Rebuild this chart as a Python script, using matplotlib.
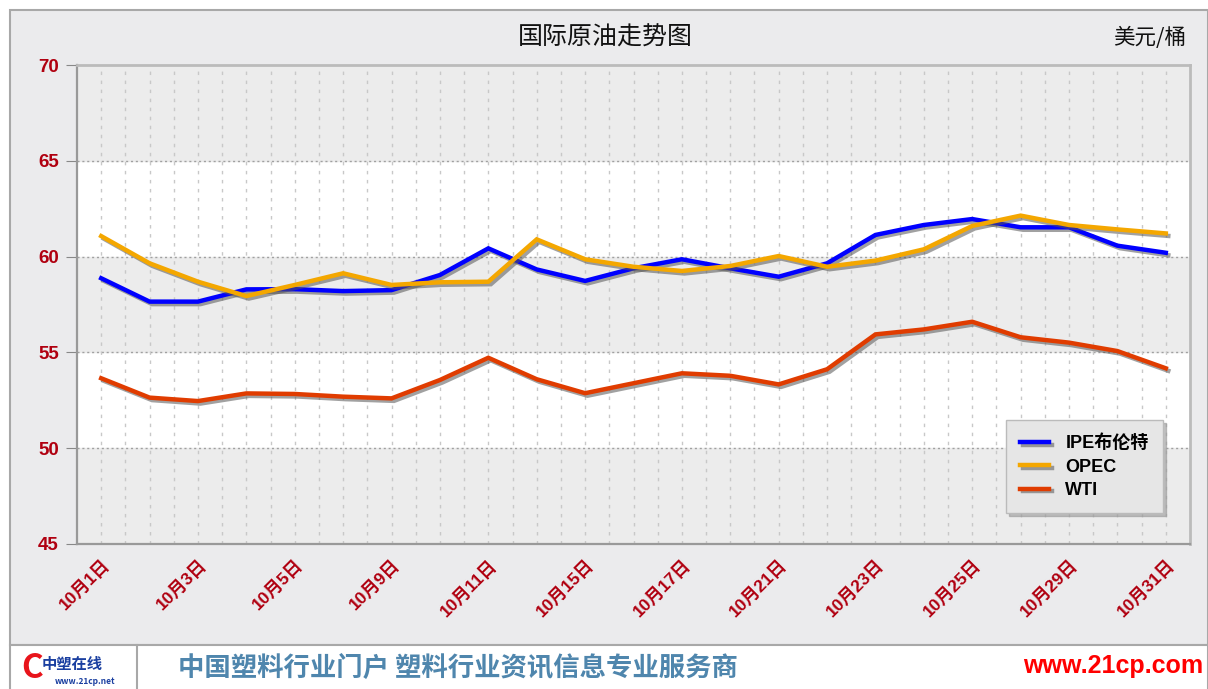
import matplotlib
matplotlib.use('Agg')
import matplotlib.pyplot as plt
import matplotlib.patheffects as pe
from matplotlib.patches import Rectangle
from matplotlib.lines import Line2D
import numpy as np

plt.rcParams['font.family'] = ['Noto Sans CJK SC', 'DejaVu Sans']
MIXED = ['Liberation Sans', 'Noto Sans CJK SC', 'DejaVu Sans']

# 数据
dates = ['10月1日', '10月2日', '10月3日', '10月4日', '10月5日', '10月8日',
         '10月9日', '10月10日', '10月11日', '10月14日', '10月15日', '10月16日',
         '10月17日', '10月18日', '10月21日', '10月22日', '10月23日', '10月24日',
         '10月25日', '10月28日', '10月29日', '10月30日', '10月31日']
ipe = [58.87, 57.65, 57.65, 58.29, 58.30, 58.20, 58.25, 59.04, 60.43, 59.33,
       58.73, 59.39, 59.86, 59.39, 58.95, 59.65, 61.13, 61.65, 61.96, 61.53,
       61.53, 60.57, 60.20]
opec = [61.07, 59.65, 58.69, 57.94, 58.52, 59.13, 58.52, 58.66, 58.69, 60.90,
        59.86, 59.47, 59.25, 59.51, 60.03, 59.47, 59.79, 60.38, 61.60, 62.14,
        61.65, 61.42, 61.21]
wti = [53.65, 52.64, 52.46, 52.86, 52.83, 52.69, 52.60, 53.56, 54.72, 53.60,
       52.87, 53.39, 53.91, 53.78, 53.33, 54.12, 55.94, 56.20, 56.60, 55.79,
       55.51, 55.07, 54.17]
series = [('IPE布伦特', ipe, '#0000ff'),
          ('OPEC', opec, '#f4a700'),
          ('WTI', wti, '#e03c00')]

W, H = 1208, 689
fig = plt.figure(figsize=(W / 100, H / 100), dpi=100)
fig.patch.set_facecolor('white')

# 外框与底部
fig.patches.append(Rectangle((10 / W, 44 / H), 1 - 10 / W, 635 / H,
                             transform=fig.transFigure, facecolor='#ebebed',
                             edgecolor='#a8a8a8', lw=1.5, zorder=-10))
fig.patches.append(Rectangle((10 / W, -0.01), 1 - 10 / W, 44 / H + 0.01,
                             transform=fig.transFigure, facecolor='white',
                             edgecolor='#a8a8a8', lw=1.5, zorder=-10))
fig.add_artist(Line2D([137 / W, 137 / W], [0, 44 / H], color='#a8a8a8', lw=1.5))

ax = fig.add_axes([77 / W, 1 - 544 / H, 1113 / W, 479 / H])
ax.set_zorder(1)
ax.set_facecolor('white')
x = np.arange(len(dates))

# 灰色条带
for lo in [45, 55, 65]:
    ax.axhspan(lo, lo + 5, color='#ececec', zorder=0)
for yv in [50, 55, 60, 65]:
    ax.axhline(yv, color='#a0a0a0', lw=1, ls=(0, (1.5, 2)), zorder=1)
for xv in np.arange(0, len(dates) - 0.5, 0.5):
    ax.axvline(xv, color='#c8c8c8', lw=1, ls=(0, (2.5, 4)), zorder=1)

shadow = [pe.SimpleLineShadow(offset=(1.8, -1.8), shadow_color='#555555', alpha=0.55),
          pe.Normal()]
handles = []
for name, vals, col in series:
    ln, = ax.plot(x, vals, color=col, lw=3.2, label=name, zorder=3,
                  solid_joinstyle='miter', path_effects=shadow)
    handles.append(ln)

ax.set_xlim(-0.5, len(dates) - 0.5)
ax.set_ylim(45, 70)
ax.set_yticks([45, 50, 55, 60, 65, 70])
ax.set_xticks(x[::2])
ax.set_xticklabels(dates[::2], rotation=45, ha='right', va='top',
                   rotation_mode='anchor', fontsize=12.5, fontweight='bold',
                   color='#b00010', family=MIXED)
ax.set_yticklabels([str(v) for v in [45, 50, 55, 60, 65, 70]], fontsize=13.5,
                   fontweight='bold', color='#b00010',
                   family=['Liberation Sans', 'DejaVu Sans'])
ax.tick_params(axis='y', length=8, color='#888888', pad=5)
ax.tick_params(axis='x', length=0, pad=9)

for side in ['left', 'bottom']:
    ax.spines[side].set_color('#999999')
    ax.spines[side].set_linewidth(1.6)
for side in ['top', 'right']:
    ax.spines[side].set_color('#bbbbbb')
    ax.spines[side].set_linewidth(2)

leg = ax.legend(handles=handles, loc='lower right',
                bbox_to_anchor=(0.984, 0.045), frameon=True, fancybox=False,
                shadow={'color': '#999999', 'alpha': 0.6}, handlelength=1.6,
                borderpad=0.8, labelspacing=0.35, handletextpad=0.9,
                prop={'size': 13, 'weight': 'bold', 'family': MIXED})
leg.get_frame().set_facecolor('#e6e6e6')
leg.get_frame().set_edgecolor('#bbbbbb')
leg.get_frame().set_alpha(1)

# 标题
fig.text(605 / W, 1 - 38 / H, '国际原油走势图', ha='center', va='center',
         fontsize=18, color='#111111')
fig.text(1186 / W, 1 - 38 / H, '美元/桶', ha='right', va='center',
         fontsize=15.5, color='#111111')

# 底部文字
fig.text(72 / W, 1 - 664 / H, '中塑在线', ha='center', va='center',
         fontsize=11, fontweight='bold', style='italic', color='#1a3fa0')
fig.text(85 / W, 1 - 681 / H, 'www.21cp.net', ha='center', va='center',
         fontsize=6, fontweight='bold', style='italic', color='#1a3fa0')
fig.text(32 / W, 1 - 668 / H, 'C', ha='center', va='center', fontsize=24,
         fontweight='bold', style='italic', color='#e8141b')
fig.text(178 / W, 1 - 668 / H, '中国塑料行业门户 塑料行业资讯信息专业服务商',
         ha='left', va='center', fontsize=19, fontweight='bold', color='#4f86ad')
fig.text(1203 / W, 1 - 666 / H, 'www.21cp.com', ha='right', va='center',
         fontsize=18, fontweight='bold', color='#ff0000',
         family=['Liberation Sans', 'DejaVu Sans'])

fig.savefig('out.png', dpi=100)
